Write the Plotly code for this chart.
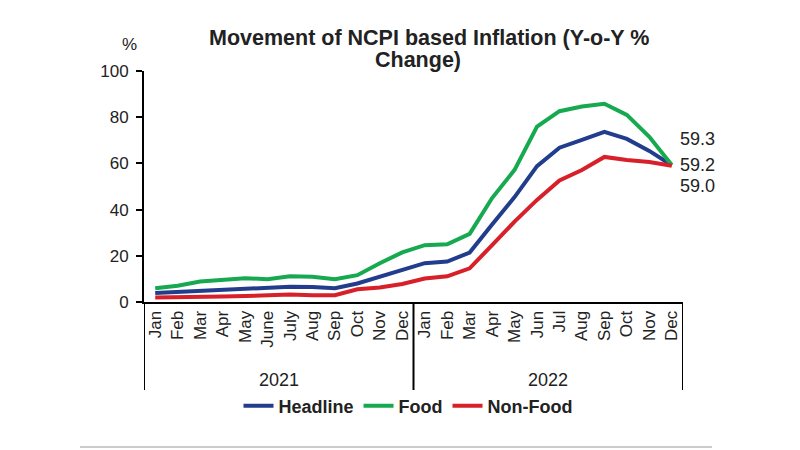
import plotly.graph_objects as go

months = ["Jan", "Feb", "Mar", "Apr", "May", "June", "July", "Aug", "Sep", "Oct", "Nov", "Dec",
          "Jan", "Feb", "Mar", "Apr", "May", "Jun", "Jul", "Aug", "Sep", "Oct", "Nov", "Dec"]
year_labels = ["2021", "2022"]
months_per_year = 12

headline = [3.9, 4.3, 5.0, 5.5, 5.9, 5.9, 6.6, 6.5, 6.0, 8.0, 10.8, 13.6,
            16.8, 17.5, 21.4, 33.6, 45.4, 58.8, 66.8, 70.2, 73.7, 70.6, 65.4, 59.2]
food = [6.0, 7.0, 8.9, 9.8, 10.3, 9.9, 11.1, 10.9, 9.9, 11.6, 16.8, 21.5,
        24.6, 25.0, 29.5, 45.0, 57.2, 75.9, 82.6, 84.6, 85.8, 81.0, 71.5, 59.3]
nonfood = [2.0, 2.0, 2.2, 2.4, 2.6, 2.9, 3.2, 2.9, 2.9, 5.5, 6.3, 7.8,
           10.2, 11.1, 14.6, 24.6, 34.8, 44.2, 52.6, 57.1, 62.8, 61.5, 60.6, 59.0]

series = [("Headline", headline, "#213D8B"),
          ("Food", food, "#16A94F"),
          ("Non-Food", nonfood, "#D7202A")]

FONT = "Arial, Liberation Sans, sans-serif"
TXT = "#222222"
idx = list(range(len(months)))

# plot area in screen pixels (page has an 8px body margin)
PL, PR, PT, PB = 144, 683, 71, 302
OFF = 8
PW, PH = PR - PL, PB - PT


def px(xp):
    return (xp - PL) / PW


def py(yp):
    return (PB - yp) / PH


fig = go.Figure()
for name, vals, col in series:
    fig.add_trace(go.Scatter(x=idx, y=vals, mode="lines", name=f"<b>{name}</b>",
                             line=dict(color=col, width=4)))

# end-of-line value labels (Food, Headline, Non-Food)
for v, ys in [(food[-1], 26), (headline[-1], 0), (nonfood[-1], -21)]:
    fig.add_annotation(x=idx[-1], y=headline[-1], xref="x", yref="y", xshift=6, yshift=ys,
                       text=f"{v:.1f}", showarrow=False, xanchor="left", yanchor="middle",
                       font=dict(family=FONT, size=18, color=TXT))

# title (two lines)
fig.add_annotation(x=px(429), y=py(38), xref="paper", yref="paper",
                   text="<b>Movement of NCPI based Inflation (Y-o-Y %</b>", showarrow=False,
                   xanchor="center", yanchor="middle", font=dict(family=FONT, size=21.5, color=TXT))
fig.add_annotation(x=px(418), y=py(60), xref="paper", yref="paper",
                   text="<b>Change)</b>", showarrow=False,
                   xanchor="center", yanchor="middle", font=dict(family=FONT, size=21.5, color=TXT))

# y unit
fig.add_annotation(text="%", showarrow=False, xref="paper", yref="paper",
                   x=px(129), y=py(44), xanchor="center", yanchor="middle",
                   font=dict(family=FONT, size=17, color=TXT))

# year group labels and dividers
for k, yl in enumerate(year_labels):
    fig.add_annotation(text=yl, showarrow=False, xref="x", yref="paper",
                       x=k * months_per_year + (months_per_year - 1) / 2, y=py(380),
                       xanchor="center", yanchor="middle",
                       font=dict(family=FONT, size=18, color=TXT))
for k in range(len(year_labels) + 1):
    fig.add_shape(type="line", xref="x", yref="paper",
                  x0=k * months_per_year - 0.5, x1=k * months_per_year - 0.5,
                  y0=0, y1=py(390), line=dict(color="black", width=2))

# bottom separator line
fig.add_shape(type="line", xref="paper", yref="paper",
              x0=px(80), x1=px(712), y0=py(447), y1=py(447),
              line=dict(color="#BBBBBB", width=1.5))

fig.update_layout(
    width=800, height=450,
    margin=dict(l=PL - OFF, r=800 - (PR - OFF), t=PT - OFF, b=450 - (PB - OFF)),
    paper_bgcolor="white", plot_bgcolor="white",
    font=dict(family=FONT, color=TXT),
    showlegend=True,
    legend=dict(orientation="h", x=px(408), xanchor="center",
                y=1 - (406 - OFF) / 450, yanchor="middle", yref="container",
                font=dict(family=FONT, size=18, color=TXT), bgcolor="rgba(0,0,0,0)"),
)

fig.update_xaxes(range=[-0.5, len(months) - 0.5], tickmode="array", tickvals=idx, ticktext=months,
                 showline=True, linecolor="black", linewidth=2, tickangle=-90,
                 tickfont=dict(family=FONT, size=17, color=TXT),
                 showgrid=False, zeroline=False, ticks="")
fig.update_yaxes(range=[0, 100], dtick=20, showline=True, linecolor="black", linewidth=2,
                 ticks="outside", ticklen=6, tickwidth=2, tickcolor="black",
                 tickfont=dict(family=FONT, size=17, color=TXT), ticklabelstandoff=4,
                 showgrid=False, zeroline=False)

fig.write_html("out.html")
